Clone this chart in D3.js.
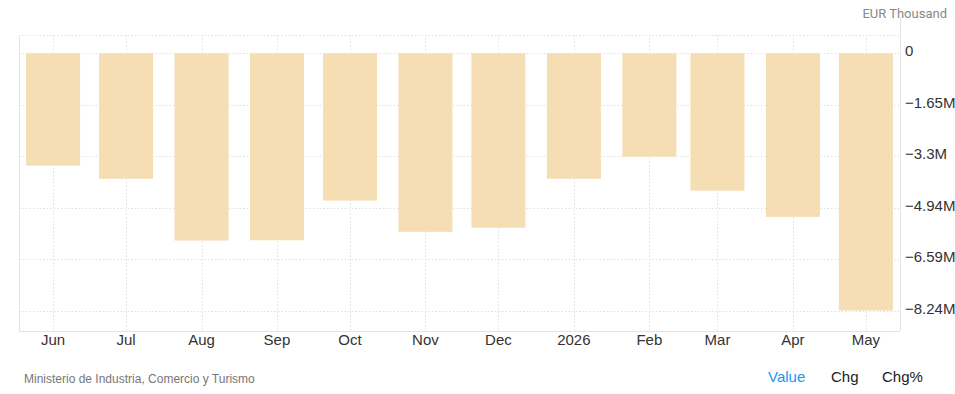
<!DOCTYPE html>
<html>
<head>
<meta charset="utf-8">
<script src="https://cdn.jsdelivr.net/npm/d3@7"></script>
<style>
    body { margin: 0; background: #fff; font-family: "Liberation Sans", Arial, sans-serif; }
    .grid line { stroke: #e0e0e0; stroke-dasharray: 1.5 2; }
    .frame { stroke: #e3e3e3; fill: none; }
    .tick-label { fill: #333; }
</style>
</head>
<body>
<div id="chart"></div>
<script>
// Monthly values, millions EUR (negative balance)
const months = ["2025-06-01", "2025-07-01", "2025-08-01", "2025-09-01", "2025-10-01", "2025-11-01",
                "2025-12-01", "2026-01-01", "2026-02-01", "2026-03-01", "2026-04-01", "2026-05-01"];
const monthLabels = ["Jun", "Jul", "Aug", "Sep", "Oct", "Nov", "Dec", "2026", "Feb", "Mar", "Apr", "May"];
const values = [-3.60, -4.02, -6.00, -5.99, -4.72, -5.72, -5.59, -4.02, -3.31, -4.40, -5.24, -8.24];
const yTickValues = [0, -1.648, -3.296, -4.944, -6.592, -8.24];

const width = 955;
const height = 394;
const plot = { left: 19, right: 900, top: 35, bottom: 331 };

const svg = d3.select('#chart').append('svg')
    .attr('width', width)
    .attr('height', height);

const dates = months.map(d => d3.timeParse("%Y-%m-%d")(d));
const data = dates.map((d, i) => ({ date: d, label: monthLabels[i], value: values[i] }));

let xScale = d3.scaleTime()
    .domain([d3.timeDay.offset(dates[0], -14), d3.timeDay.offset(dates[dates.length - 1], 14)])
    .range([plot.left, plot.right]);

// zero sits 18px below the frame top
let yScale = d3.scaleLinear()
    .domain([0, -8.24])
    .range([53.3, 310.5]);

const barWidth = 54;

// gridlines
const grid = svg.append('g').attr('class', 'grid');

grid.selectAll('.hline')
    .data(yTickValues)
    .enter()
    .append('line')
    .attr('x1', plot.left)
    .attr('x2', plot.right)
    .attr('y1', d => Math.round(yScale(d)) + 0.5)
    .attr('y2', d => Math.round(yScale(d)) + 0.5);

grid.append('line')
    .attr('x1', plot.left)
    .attr('x2', plot.right)
    .attr('y1', plot.top + 0.5)
    .attr('y2', plot.top + 0.5);

grid.selectAll('.vline')
    .data(data)
    .enter()
    .append('line')
    .attr('x1', d => Math.round(xScale(d.date)) + 0.5)
    .attr('x2', d => Math.round(xScale(d.date)) + 0.5)
    .attr('y1', plot.top)
    .attr('y2', plot.bottom);

// bars
svg.append('g')
    .selectAll('rect')
    .data(data)
    .enter()
    .append('rect')
    .attr('x', d => xScale(d.date) - barWidth / 2)
    .attr('width', barWidth)
    .attr('y', yScale(0))
    .attr('height', d => yScale(d.value) - yScale(0))
    .attr('fill', '#f5deb3');

// frame lines
svg.append('line').attr('class', 'frame')
    .attr('x1', plot.left + 0.5).attr('x2', plot.left + 0.5)
    .attr('y1', plot.top).attr('y2', plot.bottom);
svg.append('line').attr('class', 'frame')
    .attr('x1', plot.right + 0.5).attr('x2', plot.right + 0.5)
    .attr('y1', plot.top - 18).attr('y2', plot.bottom);
svg.append('line').attr('class', 'frame')
    .attr('x1', plot.left).attr('x2', plot.right)
    .attr('y1', plot.bottom + 0.5).attr('y2', plot.bottom + 0.5);

// x axis labels
svg.append('g')
    .selectAll('text')
    .data(data)
    .enter()
    .append('text')
    .attr('class', 'tick-label')
    .attr('x', d => xScale(d.date))
    .attr('y', 345)
    .attr('text-anchor', 'middle')
    .style('font-size', '15px')
    .text(d => d.label);

// y axis labels
const yFormat = d3.format(".3~g");
svg.append('g')
    .selectAll('text')
    .data(yTickValues)
    .enter()
    .append('text')
    .attr('class', 'tick-label')
    .attr('x', 905)
    .attr('y', d => yScale(d) + 3)
    .style('font-size', '15px')
    .text(d => d === 0 ? "0" : yFormat(d) + "M");

svg.append('text')
    .attr('x', 947)
    .attr('y', 18)
    .attr('text-anchor', 'end')
    .attr('fill', '#888')
    .style('font-family', 'Roboto, sans-serif')
    .style('font-size', '13px')
    .text("EUR Thousand");

svg.append('text')
    .attr('x', 24)
    .attr('y', 383)
    .attr('fill', '#777')
    .style('font-size', '12px')
    .text("Ministerio de Industria, Comercio y Turismo");

const buttons = [
    { text: "Value", x: 768, color: "#2196f3" },
    { text: "Chg", x: 831, color: "#222" },
    { text: "Chg%", x: 882, color: "#222" }
];
svg.append('g')
    .selectAll('text')
    .data(buttons)
    .enter()
    .append('text')
    .attr('x', d => d.x)
    .attr('y', 382)
    .attr('fill', d => d.color)
    .style('font-size', '15px')
    .text(d => d.text);
</script>
</body>
</html>
